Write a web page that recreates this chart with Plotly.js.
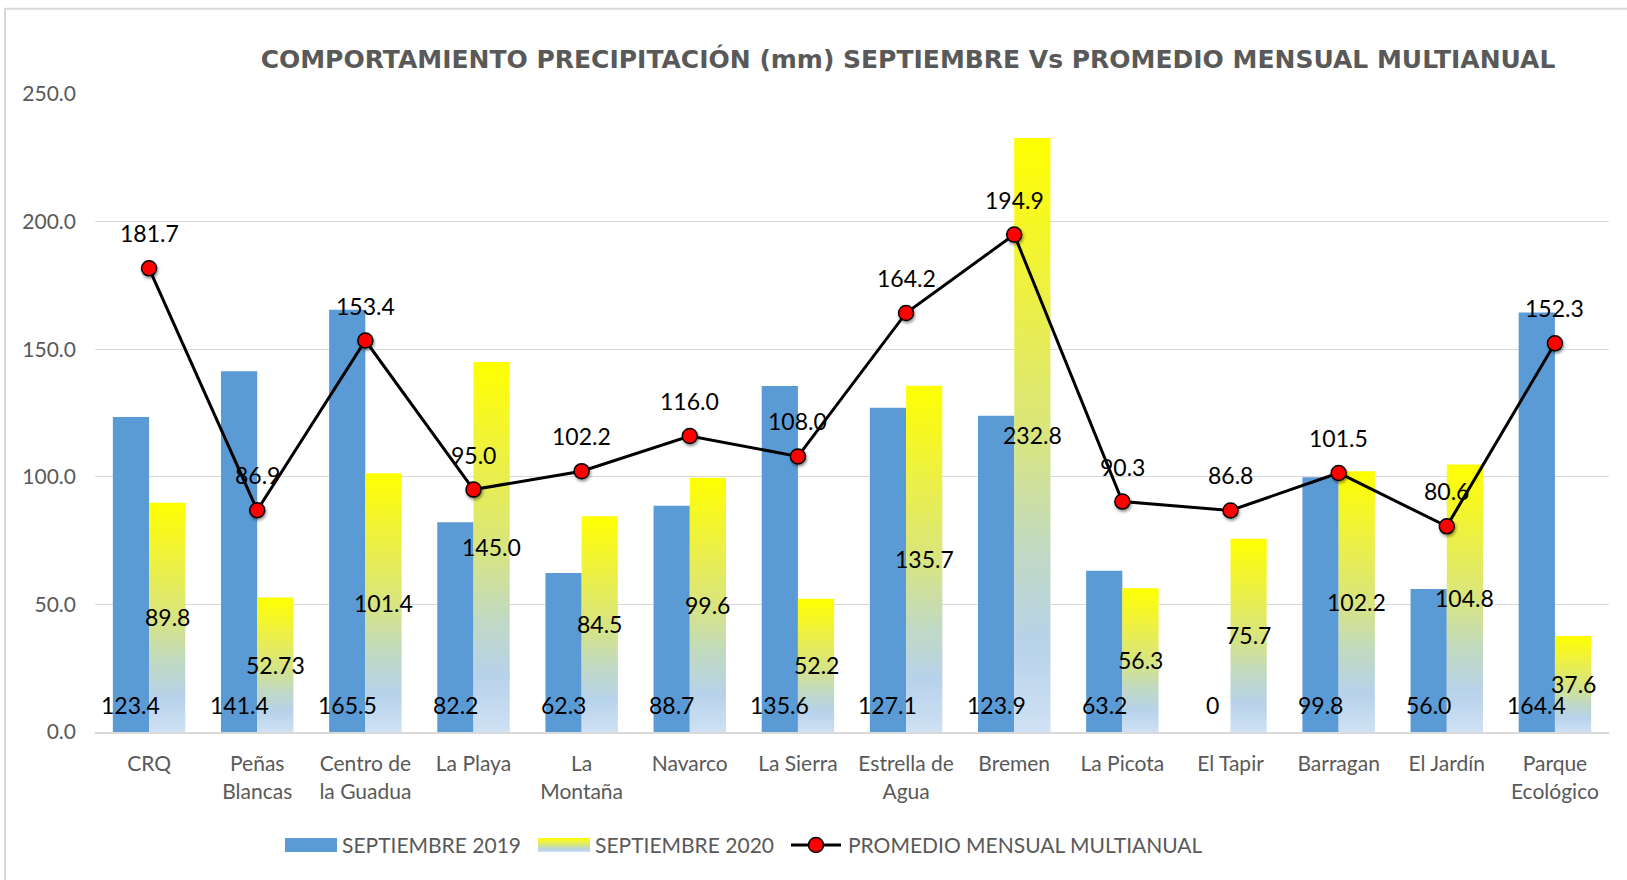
<!DOCTYPE html>
<html>
<head>
<meta charset="utf-8">
<script src="https://cdn.plot.ly/plotly-3.0.1.min.js"></script>
<style>
  html, body { margin: 0; padding: 0; background: #fff; }
  #chart { width: 1627px; height: 880px; }
  .scatterlayer .points path { filter: drop-shadow(1.5px 2px 1.5px rgba(0,0,0,0.45)); }
</style>
</head>
<body>
<div id="chart"></div>
<script>
const categories = ["CRQ", "Peñas<br>Blancas", "Centro de<br>la Guadua", "La Playa", "La<br>Montaña", "Navarco", "La Sierra", "Estrella de<br>Agua", "Bremen", "La Picota", "El Tapir", "Barragan", "El Jardín", "Parque<br>Ecológico"];
const sep2019 = [123.4, 141.4, 165.5, 82.2, 62.3, 88.7, 135.6, 127.1, 123.9, 63.2, 0, 99.8, 56.0, 164.4];
const sep2020 = [89.8, 52.73, 101.4, 145.0, 84.5, 99.6, 52.2, 135.7, 232.8, 56.3, 75.7, 102.2, 104.8, 37.6];
const promedio = [181.7, 86.9, 153.4, 95.0, 102.2, 116.0, 108.0, 164.2, 194.9, 90.3, 86.8, 101.5, 80.6, 152.3];
const labels2019 = ["123.4", "141.4", "165.5", "82.2", "62.3", "88.7", "135.6", "127.1", "123.9", "63.2", "0", "99.8", "56.0", "164.4"];
const labels2020 = ["89.8", "52.73", "101.4", "145.0", "84.5", "99.6", "52.2", "135.7", "232.8", "56.3", "75.7", "102.2", "104.8", "37.6"];
const labelsProm = ["181.7", "86.9", "153.4", "95.0", "102.2", "116.0", "108.0", "164.2", "194.9", "90.3", "86.8", "101.5", "80.6", "152.3"];
const seriesNames = ["SEPTIEMBRE 2019", "SEPTIEMBRE 2020", "PROMEDIO MENSUAL MULTIANUAL"];
const yTicks = [0, 50, 100, 150, 200, 250];
const chartTitle = "COMPORTAMIENTO PRECIPITACIÓN (mm) SEPTIEMBRE Vs PROMEDIO MENSUAL MULTIANUAL";

const idx = categories.map((_, i) => i);
const BARGAP = 0.33;
const off = (1 - BARGAP) / 4;
const labelFont = { family: "Lato, 'Open Sans', sans-serif", size: 23, color: "#000000" };
const grayFont = { family: "Lato, 'Open Sans', sans-serif", size: 21, color: "#595959" };

const traces = [
  { type: "bar", x: idx, y: sep2019, name: seriesNames[0], marker: { color: "#5B9BD5" }, hoverinfo: "skip" },
  { type: "bar", x: idx, y: sep2020, name: seriesNames[1], marker: { color: "#E2EA6A" }, hoverinfo: "skip" },
  { type: "scatter", mode: "lines+markers", x: idx, y: promedio, name: seriesNames[2],
    line: { color: "#000000", width: 3 },
    marker: { color: "#FF0000", size: 15, line: { color: "#000000", width: 1.5 } },
    hoverinfo: "skip", cliponaxis: false }
];

const annotations = [];
idx.forEach(i => {
  annotations.push({ x: i - off, y: 0, text: labels2019[i], showarrow: false, yshift: 27, yanchor: "middle", xanchor: "center", font: labelFont });
  annotations.push({ x: i + off, y: sep2020[i] / 2, text: labels2020[i], showarrow: false, yanchor: "middle", xanchor: "center", font: labelFont });
  annotations.push({ x: i, y: promedio[i], text: labelsProm[i], showarrow: false, yshift: 35, yanchor: "middle", xanchor: "center", font: labelFont });
});

const layout = {
  width: 1627, height: 880,
  margin: { l: 95, r: 18, t: 93.5, b: 147.5 },
  paper_bgcolor: "#FFFFFF", plot_bgcolor: "#FFFFFF",
  barmode: "group", bargap: BARGAP, bargroupgap: 0,
  title: {
    text: chartTitle,
    font: { family: "'DejaVu Sans', sans-serif", size: 25, weight: "bold", color: "#595959" },
    xref: "paper", x: 0.537, xanchor: "center",
    yref: "container", y: 1 - 59 / 880, yanchor: "middle"
  },
  xaxis: {
    range: [-0.5, categories.length - 0.5],
    tickvals: idx, ticktext: categories,
    tickfont: grayFont, showgrid: false, zeroline: false,
    showline: true, linecolor: "#D9D9D9", linewidth: 2,
    ticks: "", ticklabelstandoff: 12
  },
  yaxis: {
    range: [0, 250], tickvals: yTicks, tickformat: ".1f",
    tickfont: grayFont, gridcolor: "#D9D9D9", gridwidth: 1.3,
    zeroline: false, showline: false, ticks: "", ticklabelstandoff: 18
  },
  showlegend: true,
  legend: {
    orientation: "h", x: (282 - 95) / 1514, xanchor: "left",
    y: (732.5 - 846) / 639, yanchor: "middle",
    font: grayFont, entrywidth: 188, entrywidthmode: "pixels", itemwidth: 50,
    traceorder: "normal"
  },
  shapes: [{
    type: "rect", xref: "paper", yref: "paper", layer: "below",
    x0: (5 - 95) / 1514, x1: (1640 - 95) / 1514,
    y0: (732.5 - 890) / 639, y1: (732.5 - 8) / 639,
    line: { color: "#D9D9D9", width: 2 }, fillcolor: "rgba(0,0,0,0)"
  }],
  annotations: annotations,
  hovermode: false
};

function addGradient() {
  const svgs = document.querySelectorAll("#chart svg.main-svg");
  const svg = svgs[0];
  const ns = "http://www.w3.org/2000/svg";
  let defs = svg.querySelector("defs");
  if (!defs) { defs = document.createElementNS(ns, "defs"); svg.insertBefore(defs, svg.firstChild); }
  const grad = document.createElementNS(ns, "linearGradient");
  grad.setAttribute("id", "grad2020");
  grad.setAttribute("x1", "0"); grad.setAttribute("y1", "0");
  grad.setAttribute("x2", "0"); grad.setAttribute("y2", "1");
  const stops = [[0, "#FFFF00"], [0.25, "#EEF140"], [0.5, "#D9E57E"], [0.7, "#C0D9C4"], [0.85, "#B7D2EA"], [1, "#CFE1F4"]];
  stops.forEach(([o, c]) => {
    const s = document.createElementNS(ns, "stop");
    s.setAttribute("offset", o); s.setAttribute("stop-color", c);
    grad.appendChild(s);
  });
  defs.appendChild(grad);
  const barTraces = document.querySelectorAll("#chart .barlayer .trace");
  if (barTraces[1]) barTraces[1].querySelectorAll("path").forEach(p => { p.style.fill = "url(#grad2020)"; });

  // un-clip legend
  document.querySelectorAll("#chart .legend [clip-path]").forEach(el => el.removeAttribute("clip-path"));

  // legend symbols
  const items = document.querySelectorAll("#chart .legend .traces");
  items.forEach((g, k) => {
    const text = g.querySelector("text.legendtext");
    if (!text) return;
    const tr = text.getBoundingClientRect();
    if (k < 2) {
      const p = g.querySelector(".legendpoints path");
      if (!p) return;
      const ctm = p.parentNode.getScreenCTM();
      const R = tr.left - ctm.e - 5;
      const L = R - 52;
      p.setAttribute("d", `M${L},-7H${R}V7H${L}Z`);
      p.setAttribute("transform", "");
      if (k === 1) p.style.fill = "url(#grad2020)";
    } else {
      const lp = g.querySelector(".legendlines path");
      const mp = g.querySelector(".legendsymbols path");
      if (lp) {
        const ctm = lp.parentNode.getScreenCTM();
        const R = tr.left - ctm.e - 7;
        lp.setAttribute("d", `M${R - 50},0H${R}`);
      }
      if (mp) {
        const ctm2 = mp.parentNode.getScreenCTM();
        const R2 = tr.left - ctm2.e - 7;
        mp.setAttribute("transform", `translate(${R2 - 25},0)`);
      }
    }
  });
}

Plotly.newPlot("chart", traces, layout, { staticPlot: true, displayModeBar: false }).then(addGradient);
</script>
</body>
</html>
